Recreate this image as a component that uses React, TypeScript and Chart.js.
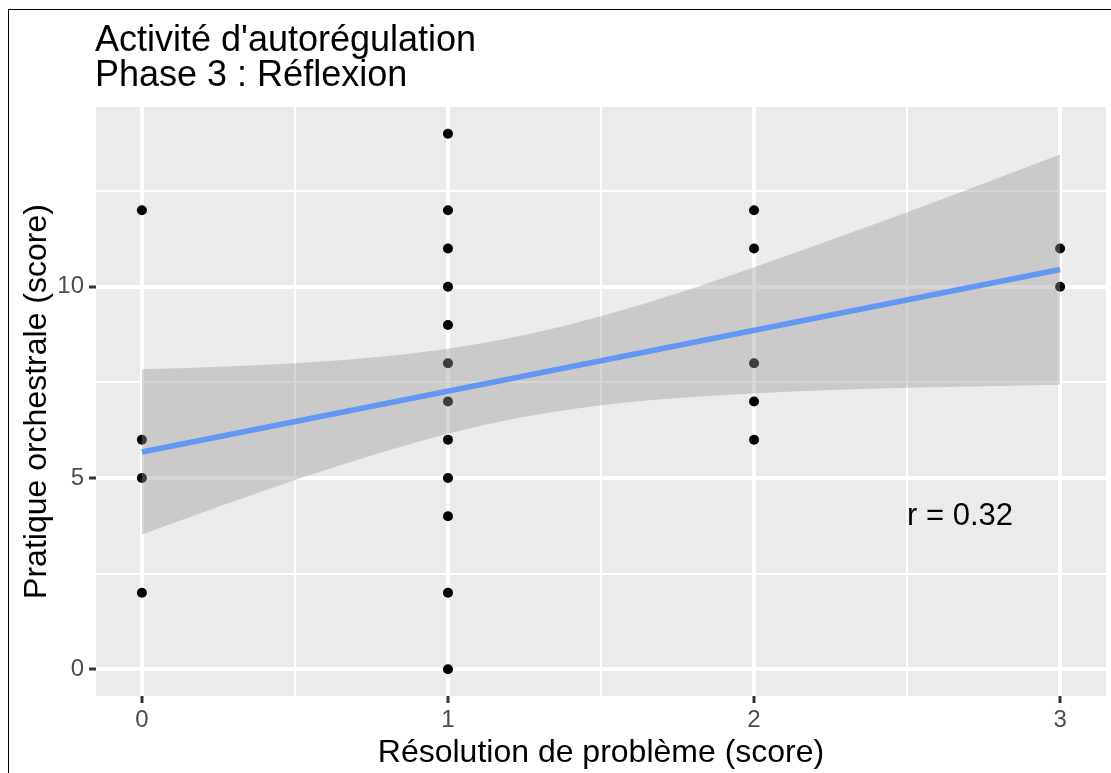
import React, { useEffect, useRef } from 'react';
import { Chart, registerables } from 'chart.js';

Chart.register(...registerables);

const titleLines = ["Activité d'autorégulation", 'Phase 3 : Réflexion'];
const xAxisTitle = 'Résolution de problème (score)';
const yAxisTitle = 'Pratique orchestrale (score)';

const xTicks = [0, 0.5, 1, 1.5, 2, 2.5, 3];
const xTickLabels = ['0', '', '1', '', '2', '', '3'];
const xMajor = [0, 1, 2, 3];
const yTicks = [0, 2.5, 5, 7.5, 10, 12.5];
const yTickLabels = ['0', '', '5', '', '10', ''];
const yMajor = [0, 5, 10];

const pointsX = [0, 0, 0, 0, 1, 1, 1, 1, 1, 1, 1, 1, 1, 1, 1, 1, 2, 2, 2, 2, 2, 3, 3];
const pointsY = [12, 6, 5, 2, 14, 12, 11, 10, 9, 8, 7, 6, 5, 4, 2, 0, 12, 11, 8, 7, 6, 11, 10];

const fitX = [0, 3];
const fitY = [5.68, 10.45];

const bandX = [0, 0.25, 0.5, 0.75, 1, 1.25, 1.5, 1.75, 2, 2.25, 2.5, 2.75, 3];
const bandUpper = [7.84, 7.91, 8.0, 8.15, 8.38, 8.74, 9.23, 9.83, 10.51, 11.22, 11.95, 12.7, 13.46];
const bandLower = [3.52, 4.25, 4.95, 5.59, 6.16, 6.6, 6.9, 7.09, 7.21, 7.3, 7.36, 7.4, 7.44];

const annotationText = 'r = 0.32';
const annotationX = 2.5;
const annotationY = 4;

const FONT = '"Liberation Sans", Arial, sans-serif';

export default function App() {
  const ref = useRef<HTMLCanvasElement | null>(null);

  useEffect(() => {
    if (!ref.current) return;

    const decor = {
      id: 'decor',
      beforeDraw(chart: any) {
        const { ctx, chartArea } = chart;
        ctx.save();
        ctx.fillStyle = '#FFFFFF';
        ctx.fillRect(0, 0, chart.width, chart.height);
        ctx.fillStyle = '#EBEBEB';
        ctx.fillRect(chartArea.left, chartArea.top, chartArea.right - chartArea.left, chartArea.bottom - chartArea.top);
        ctx.restore();
      },
      afterDraw(chart: any) {
        const { ctx, chartArea, scales } = chart;
        ctx.save();
        // border
        ctx.fillStyle = '#000000';
        ctx.fillRect(8, 9, 1, chart.height - 9);
        ctx.fillRect(8, 9, chart.width - 8, 1);
        // title
        ctx.fillStyle = '#000000';
        ctx.textAlign = 'left';
        ctx.textBaseline = 'alphabetic';
        ctx.font = `36px ${FONT}`;
        ctx.fillText(titleLines[0], chartArea.left - 1, 51);
        ctx.fillText(titleLines[1], chartArea.left - 1, 86);
        // x axis title
        ctx.font = `32px ${FONT}`;
        ctx.textAlign = 'center';
        ctx.fillText(xAxisTitle, (chartArea.left + chartArea.right) / 2, 762);
        // y axis title
        ctx.save();
        ctx.translate(37, (chartArea.top + chartArea.bottom) / 2);
        ctx.rotate(-Math.PI / 2);
        ctx.textBaseline = 'middle';
        ctx.fillText(yAxisTitle, 0, 0);
        ctx.restore();
        // annotation
        ctx.font = `31px ${FONT}`;
        ctx.textAlign = 'left';
        ctx.textBaseline = 'middle';
        ctx.fillText(annotationText, scales.x.getPixelForValue(annotationX), scales.y.getPixelForValue(annotationY));
        ctx.restore();
      },
    };

    const chart = new Chart(ref.current, {
      type: 'line',
      data: {
        datasets: [
          {
            label: 'fit',
            data: fitX.map((x, i) => ({ x, y: fitY[i] })),
            borderColor: '#6496F5',
            borderWidth: 5.5,
            pointRadius: 0,
            fill: false,
            order: 0,
          },
          {
            label: 'upper',
            data: bandX.map((x, i) => ({ x, y: bandUpper[i] })),
            borderWidth: 0,
            borderColor: 'rgba(0,0,0,0)',
            backgroundColor: 'rgba(153,153,153,0.4)',
            pointRadius: 0,
            cubicInterpolationMode: 'monotone',
            fill: '+1',
            order: 1,
          },
          {
            label: 'lower',
            data: bandX.map((x, i) => ({ x, y: bandLower[i] })),
            borderWidth: 0,
            borderColor: 'rgba(0,0,0,0)',
            pointRadius: 0,
            cubicInterpolationMode: 'monotone',
            fill: false,
            order: 2,
          },
          {
            label: 'points',
            data: pointsX.map((x, i) => ({ x, y: pointsY[i] })),
            showLine: false,
            pointRadius: 5,
            pointBackgroundColor: '#000000',
            pointBorderWidth: 0,
            borderColor: '#000000',
            fill: false,
            order: 3,
          },
        ],
      },
      options: {
        animation: false,
        responsive: false,
        devicePixelRatio: 1,
        layout: { padding: { left: 36, right: 3, top: 107, bottom: 32 } },
        plugins: {
          legend: { display: false },
          tooltip: { enabled: false },
          title: { display: false },
          filler: { drawTime: 'beforeDatasetDraw' },
        },
        scales: {
          x: {
            type: 'linear',
            min: -0.15,
            max: 3.15,
            afterBuildTicks: (scale: any) => {
              scale.ticks = xTicks.map((v) => ({ value: v }));
            },
            afterFit: (scale: any) => {
              scale.height = 45;
              scale.paddingLeft = 0;
              scale.paddingRight = 0;
            },
            ticks: {
              autoSkip: false,
              maxRotation: 0,
              minRotation: 0,
              padding: 3,
              color: '#4D4D4D',
              font: { family: FONT, size: 24 },
              callback: (_v: any, i: number) => xTickLabels[i],
            },
            grid: {
              color: '#FFFFFF',
              lineWidth: (c: any) => (xMajor.includes(c.tick?.value) ? 4 : 2),
              drawTicks: true,
              tickLength: 7,
              tickWidth: 3,
              tickColor: (c: any) => (xMajor.includes(c.tick?.value) ? '#333333' : 'rgba(0,0,0,0)'),
            },
            border: { display: false },
          },
          y: {
            type: 'linear',
            min: -0.7,
            max: 14.7,
            afterBuildTicks: (scale: any) => {
              scale.ticks = yTicks.map((v) => ({ value: v }));
            },
            afterFit: (scale: any) => {
              scale.width = 60;
              scale.paddingTop = 0;
              scale.paddingBottom = 0;
            },
            ticks: {
              autoSkip: false,
              padding: 5,
              color: '#4D4D4D',
              font: { family: FONT, size: 24 },
              callback: (_v: any, i: number) => yTickLabels[i],
            },
            grid: {
              color: '#FFFFFF',
              lineWidth: (c: any) => (yMajor.includes(c.tick?.value) ? 4 : 2),
              drawTicks: true,
              tickLength: 7,
              tickWidth: 3,
              tickColor: (c: any) => (yMajor.includes(c.tick?.value) ? '#333333' : 'rgba(0,0,0,0)'),
            },
            border: { display: false },
          },
        },
      },
      plugins: [decor],
    } as any);

    return () => chart.destroy();
  }, []);

  return (
    <div style={{ position: 'absolute', left: 0, top: 0, width: 1111, height: 773 }}>
      <canvas ref={ref} width={1111} height={773} style={{ display: 'block' }} />
    </div>
  );
}
